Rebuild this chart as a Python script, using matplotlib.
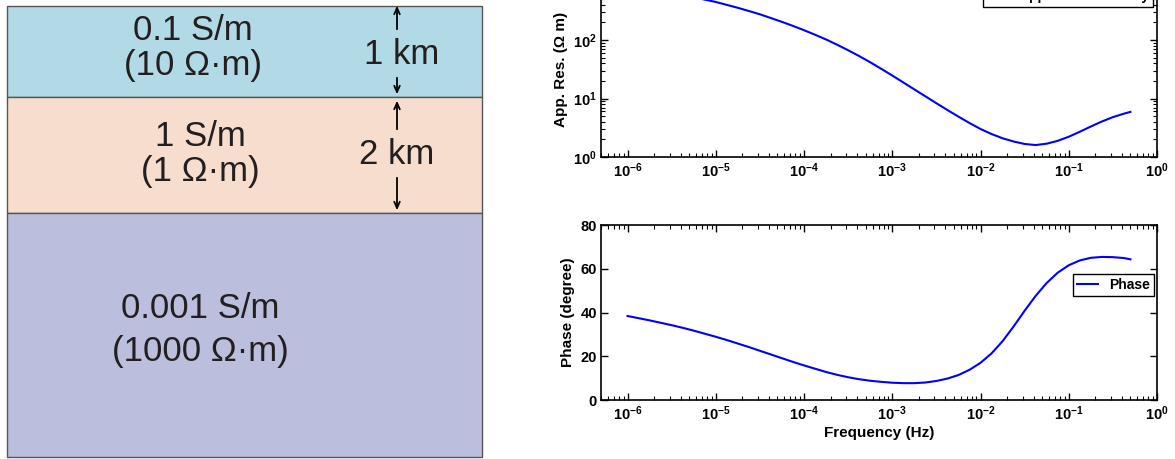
import numpy as np
import matplotlib.pyplot as plt
from matplotlib.patches import Rectangle
from matplotlib.ticker import NullFormatter

plt.rcParams['font.family'] = ['Liberation Sans', 'DejaVu Sans']
plt.rcParams['mathtext.fontset'] = 'custom'
plt.rcParams['mathtext.rm'] = 'Liberation Sans'
plt.rcParams['mathtext.bf'] = 'Liberation Sans:bold'

# modelo de camadas
sigma = [0.1, 1, 0.001]          # S/m
rho_layer = [10, 1, 1000]        # ohm m
thick_km = [1, 2]
layer_colors = ['#b2dae6', '#f7ddce', '#bbbfdd']

# resposta MT (passo de 1/8 de decada)
log_f = [-6, -5.875, -5.75, -5.625, -5.5, -5.375, -5.25, -5.125,
         -5, -4.875, -4.75, -4.625, -4.5, -4.375, -4.25, -4.125,
         -4, -3.875, -3.75, -3.625, -3.5, -3.375, -3.25, -3.125,
         -3, -2.875, -2.75, -2.625, -2.5, -2.375, -2.25, -2.125,
         -2, -1.875, -1.75, -1.625, -1.5, -1.375, -1.25, -1.125,
         -1, -0.875, -0.75, -0.625, -0.5, -0.375, -0.301]
app_res = [813, 767, 724, 676, 631, 589, 537, 490,
           447, 398, 355, 313, 275, 237, 204, 174,
           147, 123, 102, 83.0, 66.8, 53.1, 41.6, 32.2,
           24.7, 18.8, 14.3, 10.9, 8.30, 6.35, 4.90, 3.81,
           3.01, 2.47, 2.09, 1.84, 1.67, 1.60, 1.69, 1.89,
           2.22, 2.70, 3.32, 4.04, 4.80, 5.50, 5.90]
phase = [38.4, 37.4, 36.4, 35.3, 34.2, 33.0, 31.7, 30.3,
         28.9, 27.4, 25.8, 24.2, 22.5, 20.8, 19.1, 17.4,
         15.8, 14.3, 12.8, 11.5, 10.4, 9.5, 8.8, 8.3,
         7.9, 7.7, 7.7, 8.0, 8.7, 9.8, 11.4, 13.8,
         17.0, 21.3, 26.9, 33.6, 40.8, 47.6, 53.5, 58.2,
         61.6, 63.8, 65.0, 65.4, 65.3, 64.9, 64.3]

decades = [-6, -5, -4, -3, -2, -1, 0]
xtick_labels = [r'$\mathbf{10^{%d}}$' % d for d in decades]
res_ticks = [1, 10, 100]
res_labels = [r'$\mathbf{10^{0}}$', r'$\mathbf{10^{1}}$', r'$\mathbf{10^{2}}$']
phase_ticks = [0, 20, 40, 60, 80]

freq = 10.0 ** np.array(log_f)
W, H = 1175, 459
fig = plt.figure(figsize=(W / 100, H / 100), dpi=100)

# esquema das camadas (coordenadas em pixels)
ax0 = fig.add_axes([0, 0, 1, 1])
ax0.set_xlim(0, W)
ax0.set_ylim(H, 0)
ax0.axis('off')

bounds = [6, 97, 213, 457]
text_x = [193, 200, 200]
text_y = [(31, 66), (137, 172), (309, 352)]
txt_color = '#231f20'
for i in range(3):
    ax0.add_patch(Rectangle((7, bounds[i]), 475, bounds[i + 1] - bounds[i],
                            facecolor=layer_colors[i], edgecolor='#555555', lw=1))
    ax0.text(text_x[i], text_y[i][0], f'{sigma[i]:g} S/m', fontsize=25,
             ha='center', va='center', color=txt_color)
    ax0.text(text_x[i], text_y[i][1], f'({rho_layer[i]:g} \u03a9\u00b7m)', fontsize=25,
             ha='center', va='center', color=txt_color)

arrow_x = 397
km_x = [402, 397]
km_y = [55, 155]
arrow_tip = [3, 98]
for i in range(2):
    ax0.text(km_x[i], km_y[i], f'{thick_km[i]} km', fontsize=25,
             ha='center', va='center', color=txt_color)
    ax0.annotate('', xy=(arrow_x, arrow_tip[i]), xytext=(arrow_x, km_y[i] - 23),
                 arrowprops=dict(arrowstyle='->,head_length=0.45,head_width=0.2', lw=1.3, color='black'))
    ax0.annotate('', xy=(arrow_x, bounds[i + 1]), xytext=(arrow_x, km_y[i] + 20),
                 arrowprops=dict(arrowstyle='->,head_length=0.45,head_width=0.2', lw=1.3, color='black'))

# graficos
left = 601 / W
width = 556 / W
ax1 = fig.add_axes([left, (H - 157) / H, width, 175.5 / H])
ax2 = fig.add_axes([left, (H - 400) / H, width, 175 / H])

ax1.loglog(freq, app_res, color='blue', lw=1.5, label='Apparent resistivity')
ax1.set_ylim(1, 1000)
ax1.set_yticks(res_ticks, labels=res_labels)
ax1.set_ylabel('App. Res. (\u03a9 m)', fontsize=11, fontweight='bold', labelpad=3.5)
ax1.legend(loc='lower right', bbox_to_anchor=(0.993, 0.855), borderaxespad=0,
           prop={'weight': 'bold', 'size': 10}, handlelength=1.5,
           fancybox=False, edgecolor='black', framealpha=1, borderpad=0.3)

ax2.semilogx(freq, phase, color='blue', lw=1.5, label='Phase')
ax2.set_ylim(0, 80)
ax2.set_yticks(phase_ticks, labels=[str(t) for t in phase_ticks])
ax2.set_ylabel('Phase (degree)', fontsize=11, fontweight='bold', labelpad=3.5)
ax2.set_xlabel('Frequency (Hz)', fontsize=11, fontweight='bold', labelpad=2)
ax2.legend(loc='upper right', bbox_to_anchor=(0.995, 0.72), borderaxespad=0,
           prop={'weight': 'bold', 'size': 10}, handlelength=1.5,
           fancybox=False, edgecolor='black', framealpha=1, borderpad=0.3)

for ax in (ax1, ax2):
    ax.set_xlim(5e-7, 1)
    ax.set_xticks([10.0 ** d for d in decades], labels=xtick_labels)
    ax.xaxis.set_minor_formatter(NullFormatter())
    ax.yaxis.set_minor_formatter(NullFormatter())
    ax.tick_params(which='both', direction='in', top=True, right=True)
    ax.tick_params(which='major', length=5, width=1, labelsize=10.5, pad=3)
    ax.tick_params(which='minor', length=3, width=0.8)
    for lab in ax.get_yticklabels():
        lab.set_fontweight('bold')
    for s in ax.spines.values():
        s.set_linewidth(1.2)

fig.savefig('out.png', dpi=100)
